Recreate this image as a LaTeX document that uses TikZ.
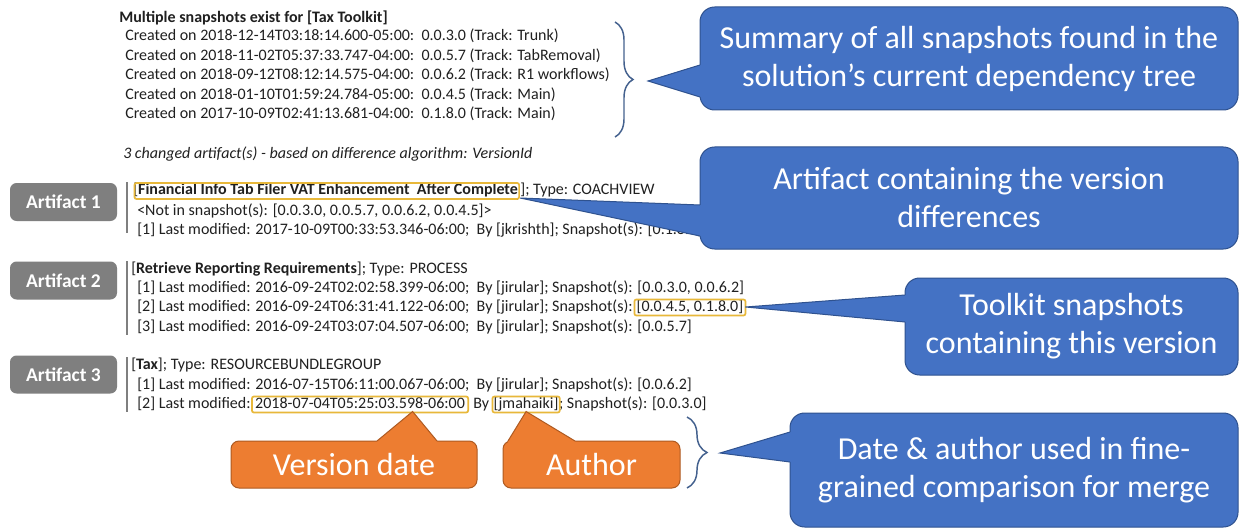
\documentclass[tikz,border=0pt]{standalone}
\usepackage{fontspec}
\setmainfont{Carlito}
\usetikzlibrary{calc,decorations.pathreplacing}

\definecolor{bluefill}{HTML}{4472C4}
\definecolor{blueline}{HTML}{2F528F}
\definecolor{orangefill}{HTML}{ED7D31}
\definecolor{orangeline}{HTML}{AE5A21}
\definecolor{badgegray}{HTML}{7F7F7F}
\definecolor{hilite}{HTML}{E8B83A}
\definecolor{bracecol}{HTML}{44618E}
\definecolor{listtext}{HTML}{202020}

\newcommand\listfont{\fontsize{12pt}{15pt}\selectfont}
\newcommand\bigfont{\fontsize{24pt}{28.5pt}\selectfont}

% pointer of a callout: tip, two base points on the box edge, inward shift
\newcommand\drawpointer[5]{%
  \fill[#1fill] #2 -- #3 -- ($#3+#5$) -- ($#4+#5$) -- #4 -- cycle;
  \draw[#1line, line width=0.75pt, line join=miter] #3 -- #2 -- #4;
}

\tikzset{
  txt/.style={inner sep=0pt, anchor=base west, font=\listfont, text=listtext},
  hibox/.style={draw=hilite, line width=1.3pt, rounded corners=1.5pt},
  badge/.style={fill=badgegray, rounded corners=5pt, minimum width=80.25pt,
    minimum height=28.5pt, inner sep=0pt, text=white,
    font=\fontsize{14.6pt}{16pt}\selectfont\bfseries},
  bluecall/.style={fill=bluefill, draw=blueline, line width=0.75pt,
    rounded corners=11pt, text=white, font=\bigfont, align=center, inner sep=0pt},
  orangecall/.style={fill=orangefill, draw=orangeline, line width=0.75pt,
    rounded corners=6pt, text=white, font=\bigfont, inner sep=0pt,
    minimum height=35.25pt},
  sidebar/.style={draw=badgegray, line width=2.2pt},
  bracestyle/.style={draw=bracecol, line width=1.1pt, decorate,
    decoration={brace, amplitude=#1}},
}

\begin{document}
\begin{tikzpicture}[x=0.75pt,y=-0.75pt]
\useasboundingbox (0,0) rectangle (1241,531);
\fill[white] (0,0) rectangle (1241,531);

% ---- snapshot summary ----
\node[txt] (hdr) at (119,23) {\textbf{Multiple snapshots exist for [Tax Toolkit]}};
\node[txt] (s1) at (125,41) {Created on 2018-12-14T03:18:14.600-05:00:\ \ 0.0.3.0 (Track: Trunk)};
\node[txt] (s2) at (125,60.5) {Created on 2018-11-02T05:37:33.747-04:00:\ \ 0.0.5.7 (Track: TabRemoval)};
\node[txt] (s3) at (125,80) {Created on 2018-09-12T08:12:14.575-04:00:\ \ 0.0.6.2 (Track: R1 workflows)};
\node[txt] (s4) at (125,99.5) {Created on 2018-01-10T01:59:24.784-05:00:\ \ 0.0.4.5 (Track: Main)};
\node[txt] (s5) at (125,119) {Created on 2017-10-09T02:41:13.681-04:00:\ \ 0.1.8.0 (Track: Main)};
\node[txt, font=\listfont\itshape] (changed) at (123,158)
  {3 changed artifact(s) - based on difference algorithm: VersionId};

% ---- artifact 1 ----
\node[badge] (b1) at (63.5,202) {Artifact 1};
\draw[sidebar] (127,182) -- (127,233);
\node[txt] (a1name) at (133,195)
  {[\underline{\textbf{Financial Info Tab Filer VAT Enhancement\ \ After Complete}}};
\node[txt] (a1type) at ($(a1name.base east)+(2,0)$) {]; Type: COACHVIEW};
\draw[hibox] ($(a1name.base west)+(1.5,4)$) rectangle ($(a1name.base east)+(1,-12)$);
\node[txt] (a1l1) at (137,215) {<Not in snapshot(s): [0.0.3.0, 0.0.5.7, 0.0.6.2, 0.0.4.5]>};
\node[txt] (a1l2) at (137,234.5)
  {[1] Last modified: 2017-10-09T00:33:53.346-06:00;\ \ By [jkrishth]; Snapshot(s): [0.1.8.0]};

% ---- artifact 2 ----
\node[badge] (b2) at (63.5,280.5) {Artifact 2};
\draw[sidebar] (127,261) -- (127,335);
\node[txt] (a2name) at (131,273) {[\textbf{Retrieve Reporting Requirements}]; Type: PROCESS};
\node[txt] (a2l1) at (137,292)
  {[1] Last modified: 2016-09-24T02:02:58.399-06:00;\ \ By [jirular]; Snapshot(s): [0.0.3.0, 0.0.6.2]};
\node[txt] (a2l2) at (137,311.5)
  {[2] Last modified: 2016-09-24T06:31:41.122-06:00;\ \ By [jirular]; Snapshot(s):};
\node[txt] (a2snap) at ($(a2l2.base east)+(3.5,0)$) {[0.0.4.5, 0.1.8.0]};
\draw[hibox] ($(a2snap.base west)+(-2,4)$) rectangle ($(a2snap.base east)+(2,-12)$);
\node[txt] (a2l3) at (137,331)
  {[3] Last modified: 2016-09-24T03:07:04.507-06:00;\ \ By [jirular]; Snapshot(s): [0.0.5.7]};

% ---- artifact 3 ----
\node[badge] (b3) at (63.5,374.5) {Artifact 3};
\draw[sidebar] (127,357) -- (127,412);
\node[txt] (a3name) at (131,369) {[\textbf{Tax}]; Type: RESOURCEBUNDLEGROUP};
\node[txt] (a3l1) at (137,389)
  {[1] Last modified: 2016-07-15T06:11:00.067-06:00;\ \ By [jirular]; Snapshot(s): [0.0.6.2]};
\node[txt] (a3l2) at (137,408.5) {[2] Last modified:};
\node[txt] (a3date) at ($(a3l2.base east)+(4,0)$) {2018-07-04T05:25:03.598-06:00};
\node[txt] (a3by) at ($(a3date.base east)+(8,0)$) {By};
\node[txt] (a3author) at ($(a3by.base east)+(4,0)$) {[jmahaiki]};
\node[txt] (a3snap) at (a3author.base east) {; Snapshot(s): [0.0.3.0]};
\draw[hibox] ($(a3date.base west)+(-3,4)$) rectangle ($(a3date.base east)+(3,-12)$);
\draw[hibox] ($(a3author.base west)+(-1,4)$) rectangle ($(a3author.base east)+(1,-12)$);

% ---- braces ----
\draw[bracestyle=13.5pt] (615,22) -- (615,137);
\coordinate (brace1tip) at (633,79.5);
\draw[bracestyle=15pt] (687,417) -- (687,488);
\coordinate (brace2tip) at (707,452.5);

% ---- blue callouts ----
\node[bluecall, minimum width=403.5pt, minimum height=77.25pt] (c1) at (969,58.5)
  {Summary of all snapshots found in the\\solution’s current dependency tree};
\drawpointer{blue}{($(brace1tip)+(15,1.5)$)}{(700,65)}{(700,97)}{(5,0)}

\node[bluecall, minimum width=403.5pt, minimum height=76.5pt] (c2) at (969,198)
  {Artifact containing the version\\differences};
\drawpointer{blue}{($(a1name.base east)+(2,3)$)}{(700,205)}{(700,236)}{(6,0)}

\node[bluecall, minimum width=249.75pt, minimum height=72.75pt] (c3) at (1071.5,326.5)
  {Toolkit snapshots\\containing this version};
\drawpointer{blue}{($(a2snap.base east)+(2,-4.5)$)}{(905,295)}{(905,322)}{(5,0)}

\node[bluecall, minimum width=336pt, minimum height=85.5pt] (c4) at (1014,470)
  {Date \& author used in fine-\\grained comparison for merge};
\drawpointer{blue}{($(brace2tip)+(13,0.5)$)}{(790,432)}{(790,462)}{(5,0)}

% ---- orange callouts ----
\node[orangecall, minimum width=184.5pt] (vdate) at (354,464.5) {Version date};
\drawpointer{orange}{($(a3date.base west)!0.75!(a3date.base east)+(0,3)$)}{(377,441)}{(437,441)}{(0,5)}

\node[orangecall, minimum width=132.75pt] (auth) at (591.5,464.5) {Author};
\drawpointer{orange}{($(a3author.base west)!0.5!(a3author.base east)+(0,3)$)}{(508,441)}{(575,441)}{(0,5)}
\end{tikzpicture}
\end{document}
